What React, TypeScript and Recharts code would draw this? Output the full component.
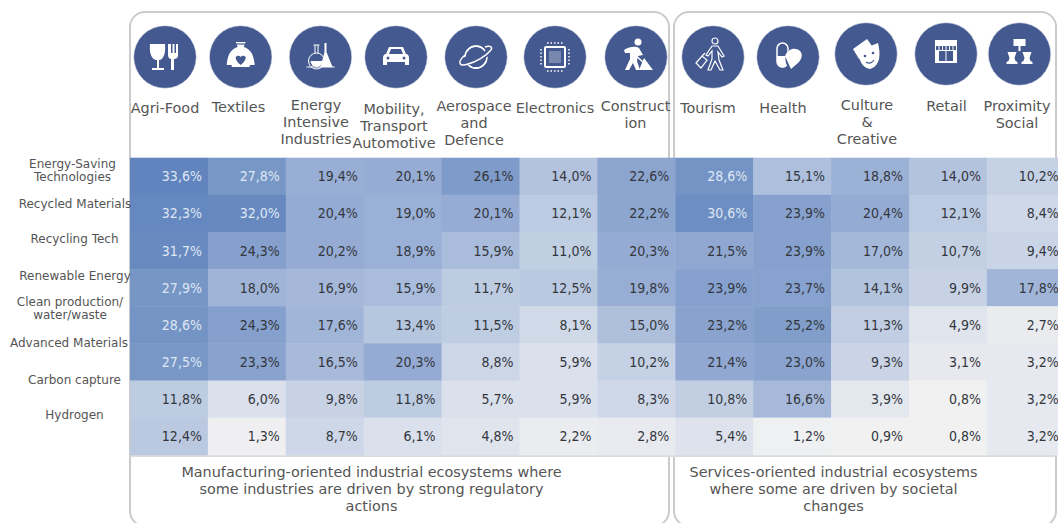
import { ScatterChart, Scatter, XAxis, YAxis } from 'recharts';

const ecosystems = [
  'Agri-Food', 'Textiles', 'Energy\nIntensive\nIndustries', 'Mobility,\nTransport\nAutomotive',
  'Aerospace\nand\nDefence', 'Electronics', 'Construct\nion', 'Tourism', 'Health',
  'Culture\n&\nCreative', 'Retail', 'Proximity\nSocial',
];

const technologies = [
  'Energy-Saving\nTechnologies', 'Recycled Materials', 'Recycling Tech', 'Renewable Energy',
  'Clean production/\nwater/waste', 'Advanced Materials', 'Carbon capture', 'Hydrogen',
];

const energySaving = [33.6, 27.8, 19.4, 20.1, 26.1, 14.0, 22.6, 28.6, 15.1, 18.8, 14.0, 10.2];
const recycledMaterials = [32.3, 32.0, 20.4, 19.0, 20.1, 12.1, 22.2, 30.6, 23.9, 20.4, 12.1, 8.4];
const recyclingTech = [31.7, 24.3, 20.2, 18.9, 15.9, 11.0, 20.3, 21.5, 23.9, 17.0, 10.7, 9.4];
const renewableEnergy = [27.9, 18.0, 16.9, 15.9, 11.7, 12.5, 19.8, 23.9, 23.7, 14.1, 9.9, 17.8];
const cleanProduction = [28.6, 24.3, 17.6, 13.4, 11.5, 8.1, 15.0, 23.2, 25.2, 11.3, 4.9, 2.7];
const advancedMaterials = [27.5, 23.3, 16.5, 20.3, 8.8, 5.9, 10.2, 21.4, 23.0, 9.3, 3.1, 3.2];
const carbonCapture = [11.8, 6.0, 9.8, 11.8, 5.7, 5.9, 8.3, 10.8, 16.6, 3.9, 0.8, 3.2];
const hydrogen = [12.4, 1.3, 8.7, 6.1, 4.8, 2.2, 2.8, 5.4, 1.2, 0.9, 0.8, 3.2];

const rows = [energySaving, recycledMaterials, recyclingTech, renewableEnergy, cleanProduction, advancedMaterials, carbonCapture, hydrogen];

const cells = rows.flatMap((row, r) =>
  row.map((value, c) => ({ ecosystem: ecosystems[c], technology: technologies[r], value })),
);

// plot area
const PLOT_LEFT = 130;
const PLOT_TOP = 157.7;
const CELL_W = 77.9;
const CELL_H = 37.13;
const CHART_W = 1075;
const CHART_H = 523;

const FONT = '"DejaVu Sans", Verdana, sans-serif';
const CELL_FONT = '"DejaVu Sans Condensed", "DejaVu Sans", sans-serif';

const colorStops: [number, number[]][] = [
  [0.8, [241, 241, 241]],
  [6, [218, 224, 236]],
  [12, [188, 203, 225]],
  [20, [150, 172, 212]],
  [28, [118, 150, 198]],
  [34, [96, 131, 189]],
];

function cellColor(v: number) {
  for (let i = 1; i < colorStops.length; i++) {
    const [v1, c1] = colorStops[i];
    const [v0, c0] = colorStops[i - 1];
    if (v <= v1) {
      const t = (v - v0) / (v1 - v0);
      return `rgb(${c0.map((x, k) => Math.round(x + (c1[k] - x) * t)).join(',')})`;
    }
  }
  return 'rgb(96,131,189)';
}

function HeatCell({ cx, cy, payload }: any) {
  const v = payload.value;
  return (
    <g>
      <rect x={cx - CELL_W / 2} y={cy - CELL_H / 2} width={CELL_W + 0.5} height={CELL_H + 0.5} fill={cellColor(v)} />
      <text
        x={cx + CELL_W / 2 - 6}
        y={cy + 5}
        textAnchor="end"
        fontFamily={CELL_FONT}
        fontSize={14}
        fill={v >= 27 ? '#dfe7f3' : '#33373d'}
      >
        {v.toFixed(1).replace('.', ',')}%
      </text>
    </g>
  );
}

const W = { fill: '#fff' };
const S = { fill: 'none', stroke: '#fff', strokeWidth: 1.5 };
const BLUE = '#44598f';

const icons = [
  <g key="food">
    <path d="M-15 -13 H0 C1 -3 -2 3 -6 3 V11 H-1 V13 H-13 V11 H-8 V3 C-13 3 -16 -3 -15 -13Z" {...W} />
    <path d="M3 -13 V-2 C3 1 5 2 6 2 V13 H9 V2 C11 2 13 1 13 -2 V-13 H11 V-4 H9.5 V-13 H7.5 V-4 H6 V-13Z" {...W} />
  </g>,
  <g key="hoodie">
    <path d="M-5 -15 H5 L3 -10 C9 -8 13 -4 14 8 H9 V-2 V10 H-9 V-2 V8 H-14 C-13 -4 -9 -8 -3 -10Z" {...W} />
    <path d="M-5 0 C-3 -2 -1 -1 0 0 C1 -1 3 -2 5 0 C5 4 2 6 0 8 C-2 6 -5 4 -5 0Z" fill={BLUE} />
    <path d="M-5 -13 H5" stroke={BLUE} strokeWidth={1.2} />
  </g>,
  <g key="flask">
    <circle cx={-4} cy={4} r={8} fill="none" stroke="#fff" strokeWidth={1} />
    <path d="M-10 4 H2 A6 6 0 0 1 -10 4Z" {...W} />
    <path d="M-7 -12 H-1 M-5.5 -12 V-4 M-2.5 -12 V-4" stroke="#fff" strokeWidth={1} />
    <path d="M6 -14 V-5 L12 10 H0 L4 -5 V-14Z" {...W} />
    <path d="M-14 10 H14" stroke="#fff" strokeWidth={1} />
  </g>,
  <g key="car">
    <path d="M-10 -3 L-7 -10 H7 L10 -3 C12 -3 13 -1 13 1 V8 H9 V5 H-9 V8 H-13 V1 C-13 -1 -12 -3 -10 -3Z" {...W} />
    <path d="M-7 -3 L-5 -8 H5 L7 -3Z" fill={BLUE} />
    <circle cx={-8} cy={1} r={1.5} fill={BLUE} />
    <circle cx={8} cy={1} r={1.5} fill={BLUE} />
  </g>,
  <g key="planet">
    <circle cx={0} cy={0} r={11} {...S} />
    <ellipse cx={0} cy={0} rx={16} ry={5.5} transform="rotate(-22)" fill={BLUE} />
    <path d="M-11 -2 C-20 6 -16 10 -8 7 C0 5 10 -1 14 -6 C18 -10 14 -12 9 -10" {...S} />
    <path d="M-9 -6 A11 11 0 0 1 9 -6 M-7 9 A11 11 0 0 0 10 4" {...S} />
  </g>,
  <g key="chip">
    <rect x={-10} y={-10} width={20} height={20} rx={1} fill="none" stroke="#fff" strokeWidth={2} />
    <rect x={-6} y={-6} width={12} height={12} fill="#fff" opacity={0.28} />
    <path d="M-8 -14 H8 M-8 14 H8 M-14 -8 V8 M14 -8 V8" stroke="#fff" strokeWidth={1.5} strokeDasharray="1.5 2" />
  </g>,
  <g key="worker">
    <circle cx={2} cy={-15} r={3.5} {...W} />
    <path d="M-12 -7 C-6 -11 0 -11 3 -9 L7 -2 L2 -1 L1 4 L4 13 H0 L-3 6 L-7 13 H-11 L-6 2 L-6 -4 L-11 -4Z" {...W} />
    <path d="M-3 -4 L8 6" stroke="#fff" strokeWidth={1.5} />
    <path d="M8 1 L17 13 H3Z" {...W} />
  </g>,
  <g key="traveller">
    <circle cx={2} cy={-16} r={3} {...S} strokeWidth={1.2} />
    <path d="M-1 -11 H5 L11 -1 L9 0 L5 -5 L6 3 L10 13 H7 L2 4 L-2 13 H-5 L-1 2 L-1 -6 L-5 -1 L-7 -2Z" {...S} strokeWidth={1.2} />
    <path d="M-17 6 L-11 -1 L-6 3 L-12 11Z M-11 -1 L-8 -4" {...S} strokeWidth={1.2} />
  </g>,
  <g key="pill">
    <rect x={-11} y={-14} width={11} height={24} rx={5.5} {...S} />
    <path d="M-11 -1 H0 V5 A5.5 5.5 0 0 1 -11 5Z" {...W} />
    <path d="M-2 -2 C0 -9 7 -10 11 -7 C16 -3 14 3 9 7 L3 13 C-1 12 -4 2 -2 -2Z" fill={BLUE} />
    <path d="M-3 -1 C0 -9 8 -10 12 -6 C15 -3 14 2 10 6 L3 12Z" {...W} />
    <path d="M-1 2 L10 -7" stroke={BLUE} strokeWidth={0} />
  </g>,
  <g key="masks">
    <path d="M-13 -5 L1 -15 L6 -8 L-7 5Z" {...W} />
    <path d="M-8 -3 L12 -11 C15 1 14 12 4 15 C-4 14 -7 6 -8 -3Z" {...W} />
    <circle cx={-1} cy={2} r={1.3} fill={BLUE} />
    <circle cx={7} cy={-1} r={1.3} fill={BLUE} />
    <path d="M0 8 C3 10 6 9 8 6" stroke={BLUE} strokeWidth={1.2} fill="none" />
  </g>,
  <g key="shop">
    <rect x={-11} y={-14} width={22} height={22} {...W} />
    <path d="M-10 -6 H10" stroke={BLUE} strokeWidth={4} strokeDasharray="2.5 1" />
    <rect x={-7} y={-3} width={14} height={11} fill={BLUE} />
    <path d="M0 -3 V8" stroke="#fff" strokeWidth={1} />
    <path d="M-11 8 H11" stroke="#fff" strokeWidth={2} />
  </g>,
  <g key="social">
    <rect x={-6} y={-15} width={12} height={7} {...W} />
    <path d="M0 -8 V-3" stroke="#fff" strokeWidth={2} />
    <path d="M-12 -2 H-3 L-5 4 L-4 7 L-2 8 V10 H-13 V8 L-11 7 L-10 4Z" {...W} />
    <path d="M3 -2 H12 L10 4 L11 7 L13 8 V10 H2 V8 L4 7 L5 4Z" {...W} />
  </g>,
];

// fine placement of the header art, by column: circle x/y, label x, first line y
const headerLayout = [
  [165, 57, 165, 113],
  [240.7, 57, 238.5, 112],
  [320.5, 57, 316, 110],
  [396, 57, 394, 114],
  [476, 57, 474, 111],
  [555, 57, 555, 113],
  [636, 57, 635.5, 111],
  [713, 57, 708, 113],
  [788, 57, 783, 113],
  [866, 54, 867, 110],
  [946, 54, 946.5, 111],
  [1019.5, 54, 1017, 111],
];

function HeaderTick({ payload, index }: any) {
  const i = payload.index ?? index;
  const [cx, cy, lx, ly] = headerLayout[i];
  const lines = String(payload.value).split('\n');
  return (
    <g>
      <circle cx={cx} cy={cy} r={31.3} fill={BLUE} stroke="#e4e7ef" strokeWidth={0.6} />
      <g transform={`translate(${cx} ${cy})`}>{icons[i]}</g>
      <text x={lx} y={ly} textAnchor="middle" fontFamily={FONT} fontSize={14.4} fill="#555">
        {lines.map((l, k) => (
          <tspan key={k} x={lx} y={ly + k * 17}>{l}</tspan>
        ))}
      </text>
    </g>
  );
}

// row labels sit above their rows in the reference: centre x, first baseline y
const rowLabelLayout = [
  [72.5, 168],
  [75, 208],
  [74.5, 243],
  [75, 280],
  [70, 306],
  [69, 347],
  [74.5, 384],
  [74.5, 419],
];

function RowTick({ payload, index }: any) {
  const i = payload.index ?? index;
  const [lx, ly] = rowLabelLayout[i];
  const lines = String(payload.value).split('\n');
  return (
    <text x={lx} y={ly} textAnchor="middle" fontFamily={FONT} fontSize={12} fill="#555">
      {lines.map((l, k) => (
        <tspan key={k} x={lx} y={ly + k * 13}>{l}</tspan>
      ))}
    </text>
  );
}

const frame = { position: 'absolute', top: 11, height: 516, border: '2.5px solid #cbcbcb', borderRadius: 16, boxSizing: 'border-box' } as const;
const caption = { position: 'absolute', top: 464, textAlign: 'center', font: `14.4px/17px ${FONT}`, color: '#555' } as const;

export default function App() {
  return (
    <div style={{ position: 'absolute', left: 0, top: 0, width: 1058, height: 523, overflow: 'hidden', background: '#fff' }}>
      <div style={{ ...frame, left: 128.5, width: 541.5 }} />
      <div style={{ ...frame, left: 672.5, width: 384 }} />
      <div style={{ position: 'absolute', left: 130, top: 454.5, width: 925, height: 2, background: '#dcdcdc' }} />
      <div style={{ ...caption, left: 130, width: 483 }}>
        Manufacturing-oriented industrial ecosystems where<br />
        some industries are driven by strong regulatory<br />
        actions
      </div>
      <div style={{ ...caption, left: 680, width: 307 }}>
        Services-oriented industrial ecosystems<br />
        where some are driven by societal<br />
        changes
      </div>
      <div style={{ position: 'absolute', left: 0, top: 0 }}>
        <ScatterChart
          width={CHART_W}
          height={CHART_H}
          margin={{ top: 0, right: CHART_W - PLOT_LEFT - CELL_W * 12, bottom: CHART_H - PLOT_TOP - CELL_H * 8, left: 0 }}
        >
          <XAxis
            dataKey="ecosystem"
            type="category"
            orientation="top"
            allowDuplicatedCategory={false}
            height={PLOT_TOP}
            axisLine={false}
            tickLine={false}
            interval={0}
            tick={<HeaderTick />}
          />
          <YAxis
            dataKey="technology"
            type="category"
            allowDuplicatedCategory={false}
            width={PLOT_LEFT}
            axisLine={false}
            tickLine={false}
            interval={0}
            reversed
            tick={<RowTick />}
          />
          <Scatter data={cells} isAnimationActive={false} shape={<HeatCell />} />
        </ScatterChart>
      </div>
    </div>
  );
}
